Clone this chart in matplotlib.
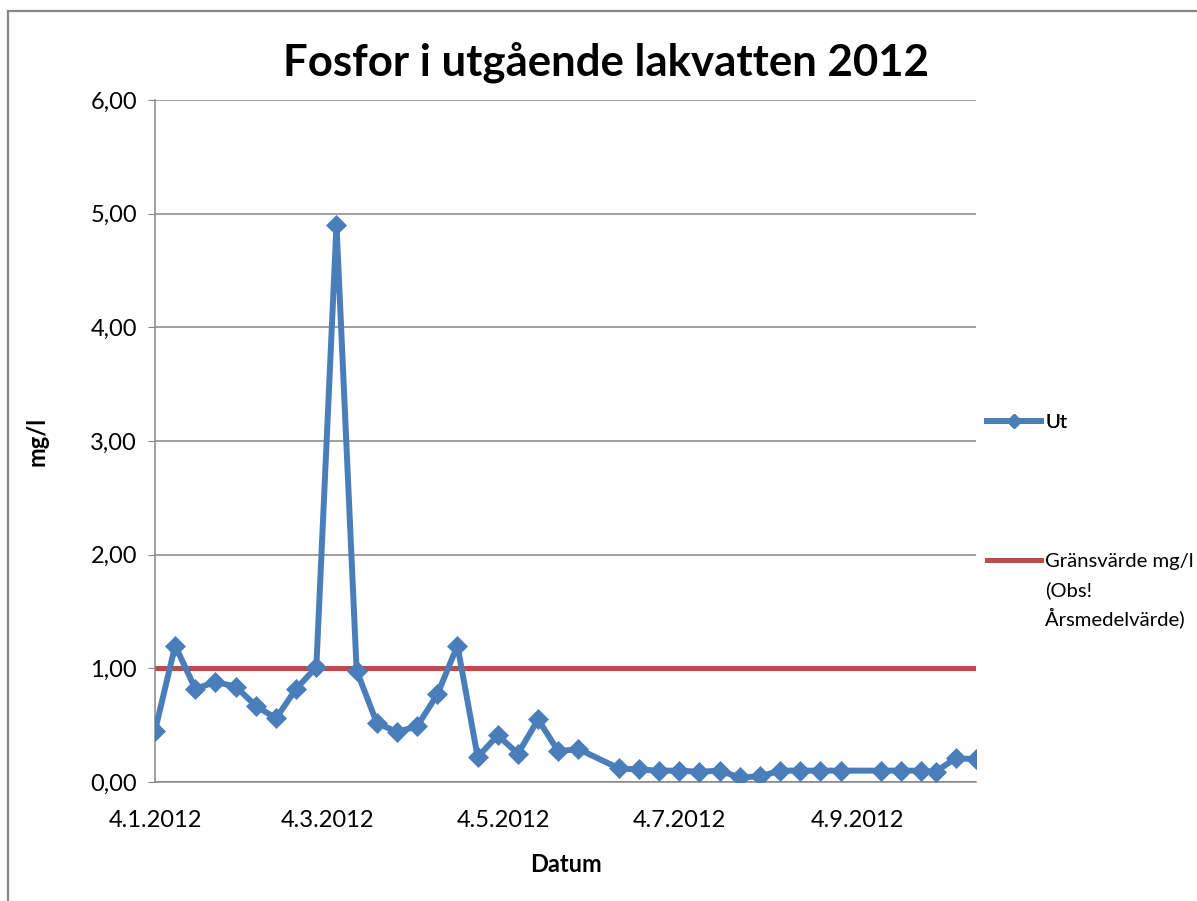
import numpy as np
import pandas as pd
import matplotlib
matplotlib.use("Agg")
import matplotlib.pyplot as plt
from matplotlib.lines import Line2D
from matplotlib.patches import Rectangle
from matplotlib.ticker import FuncFormatter

plt.rcParams['font.family'] = ['Lato', 'DejaVu Sans']

TITLE = "Fosfor i utgående lakvatten 2012"
SERIES_UT = "Ut"
SERIES_LIMIT = "Gränsvärde mg/l"
LIMIT_NOTE = ["(Obs!", "Årsmedelvärde)"]

# weekly samples, a couple of weeks missing
dates = pd.to_datetime([
    "2012-01-04", "2012-01-11", "2012-01-18", "2012-01-25", "2012-02-01",
    "2012-02-08", "2012-02-15", "2012-02-22", "2012-02-29", "2012-03-07",
    "2012-03-14", "2012-03-21", "2012-03-28", "2012-04-04", "2012-04-11",
    "2012-04-18", "2012-04-25", "2012-05-02", "2012-05-09", "2012-05-16",
    "2012-05-23", "2012-05-30", "2012-06-13", "2012-06-20", "2012-06-27",
    "2012-07-04", "2012-07-11", "2012-07-18", "2012-07-25", "2012-08-01",
    "2012-08-08", "2012-08-15", "2012-08-22", "2012-08-29", "2012-09-12",
    "2012-09-19", "2012-09-26", "2012-10-01", "2012-10-08", "2012-10-15",
])
ut = [
    0.45, 1.20, 0.82, 0.88, 0.84,
    0.67, 0.56, 0.82, 1.01, 4.90,
    0.98, 0.52, 0.44, 0.49, 0.77,
    1.20, 0.22, 0.41, 0.25, 0.55,
    0.27, 0.29, 0.12, 0.11, 0.10,
    0.10, 0.09, 0.10, 0.04, 0.05,
    0.10, 0.10, 0.10, 0.10, 0.10,
    0.10, 0.10, 0.09, 0.21, 0.20,
]
limit = [1.0] * len(dates)

tick_dates = pd.to_datetime(["2012-01-04", "2012-03-04", "2012-05-04",
                             "2012-07-04", "2012-09-04"])
y_ticks = [0, 1, 2, 3, 4, 5, 6]

BLUE = "#4A7EBB"
RED = "#BE4B48"
GRID = "#868686"
W, H = 1197, 901

fig = plt.figure(figsize=(W / 100, H / 100), dpi=100)
ax = fig.add_axes([155 / W, 1 - 782 / H, (976 - 155) / W, (782 - 100) / H])

# chart area border (cropped on right and bottom)
fig.patches.append(Rectangle((8 / W, -0.1), 1.2, 1 - 11 / H + 0.1,
                             transform=fig.transFigure, fill=False,
                             edgecolor="#878787", linewidth=1.6))

ax.plot(dates, ut, color=BLUE, linewidth=4.3, marker="D", markersize=10,
        markeredgewidth=0.5, markeredgecolor=BLUE, zorder=3)
ax.plot(dates, limit, color=RED, linewidth=3.6, zorder=2)

ax.set_xlim(dates[0], dates[-1])
ax.set_ylim(0, 6)
ax.set_yticks(y_ticks)
ax.yaxis.set_major_formatter(FuncFormatter(lambda v, p: f"{v:.2f}".replace(".", ",")))
ax.set_xticks(tick_dates)
ax.set_xticklabels([f"{d.day}.{d.month}.{d.year}" for d in tick_dates])

ax.grid(axis="y", color=GRID, linewidth=1.1, zorder=0)
ax.set_axisbelow(True)
for s in ["top", "right"]:
    ax.spines[s].set_visible(False)
for s in ["left", "bottom"]:
    ax.spines[s].set_color(GRID)
    ax.spines[s].set_linewidth(1.1)
ax.tick_params(axis="y", length=5, color=GRID, pad=8, labelsize=17)
ax.tick_params(axis="x", length=0, pad=20, labelsize=17)

ax.set_ylabel("mg/l", fontsize=17, fontweight="bold", labelpad=30)
ax.set_xlabel("Datum", fontsize=17, fontweight="bold", labelpad=16)
fig.text(606 / W, 1 - 62 / H, TITLE, fontsize=31.5, fontweight="bold",
         ha="center", va="center")

# legend, placed like the Excel one on the right
LFS = 14.6
hl = 38.9 / LFS
leg1 = fig.legend(handles=[Line2D([], [], color=BLUE, linewidth=4.3, marker="D",
                                  markersize=7)],
                  labels=[SERIES_UT], loc="center left",
                  bbox_to_anchor=(987 / W, 1 - 422 / H), frameon=False,
                  fontsize=LFS, handlelength=hl, handletextpad=0.2,
                  borderaxespad=0, borderpad=0)
leg2 = fig.legend(handles=[Line2D([], [], color=RED, linewidth=3.6)],
                  labels=[SERIES_LIMIT], loc="center left",
                  bbox_to_anchor=(987 / W, 1 - 561 / H), frameon=False,
                  fontsize=LFS, handlelength=hl, handletextpad=0.2,
                  borderaxespad=0, borderpad=0)
fig.add_artist(leg1)
for i, line in enumerate(LIMIT_NOTE):
    fig.text(1045 / W, 1 - (590 + 27.5 * i) / H, line, fontsize=LFS,
             ha="left", va="center")

fig.savefig("out.png", dpi=100)
